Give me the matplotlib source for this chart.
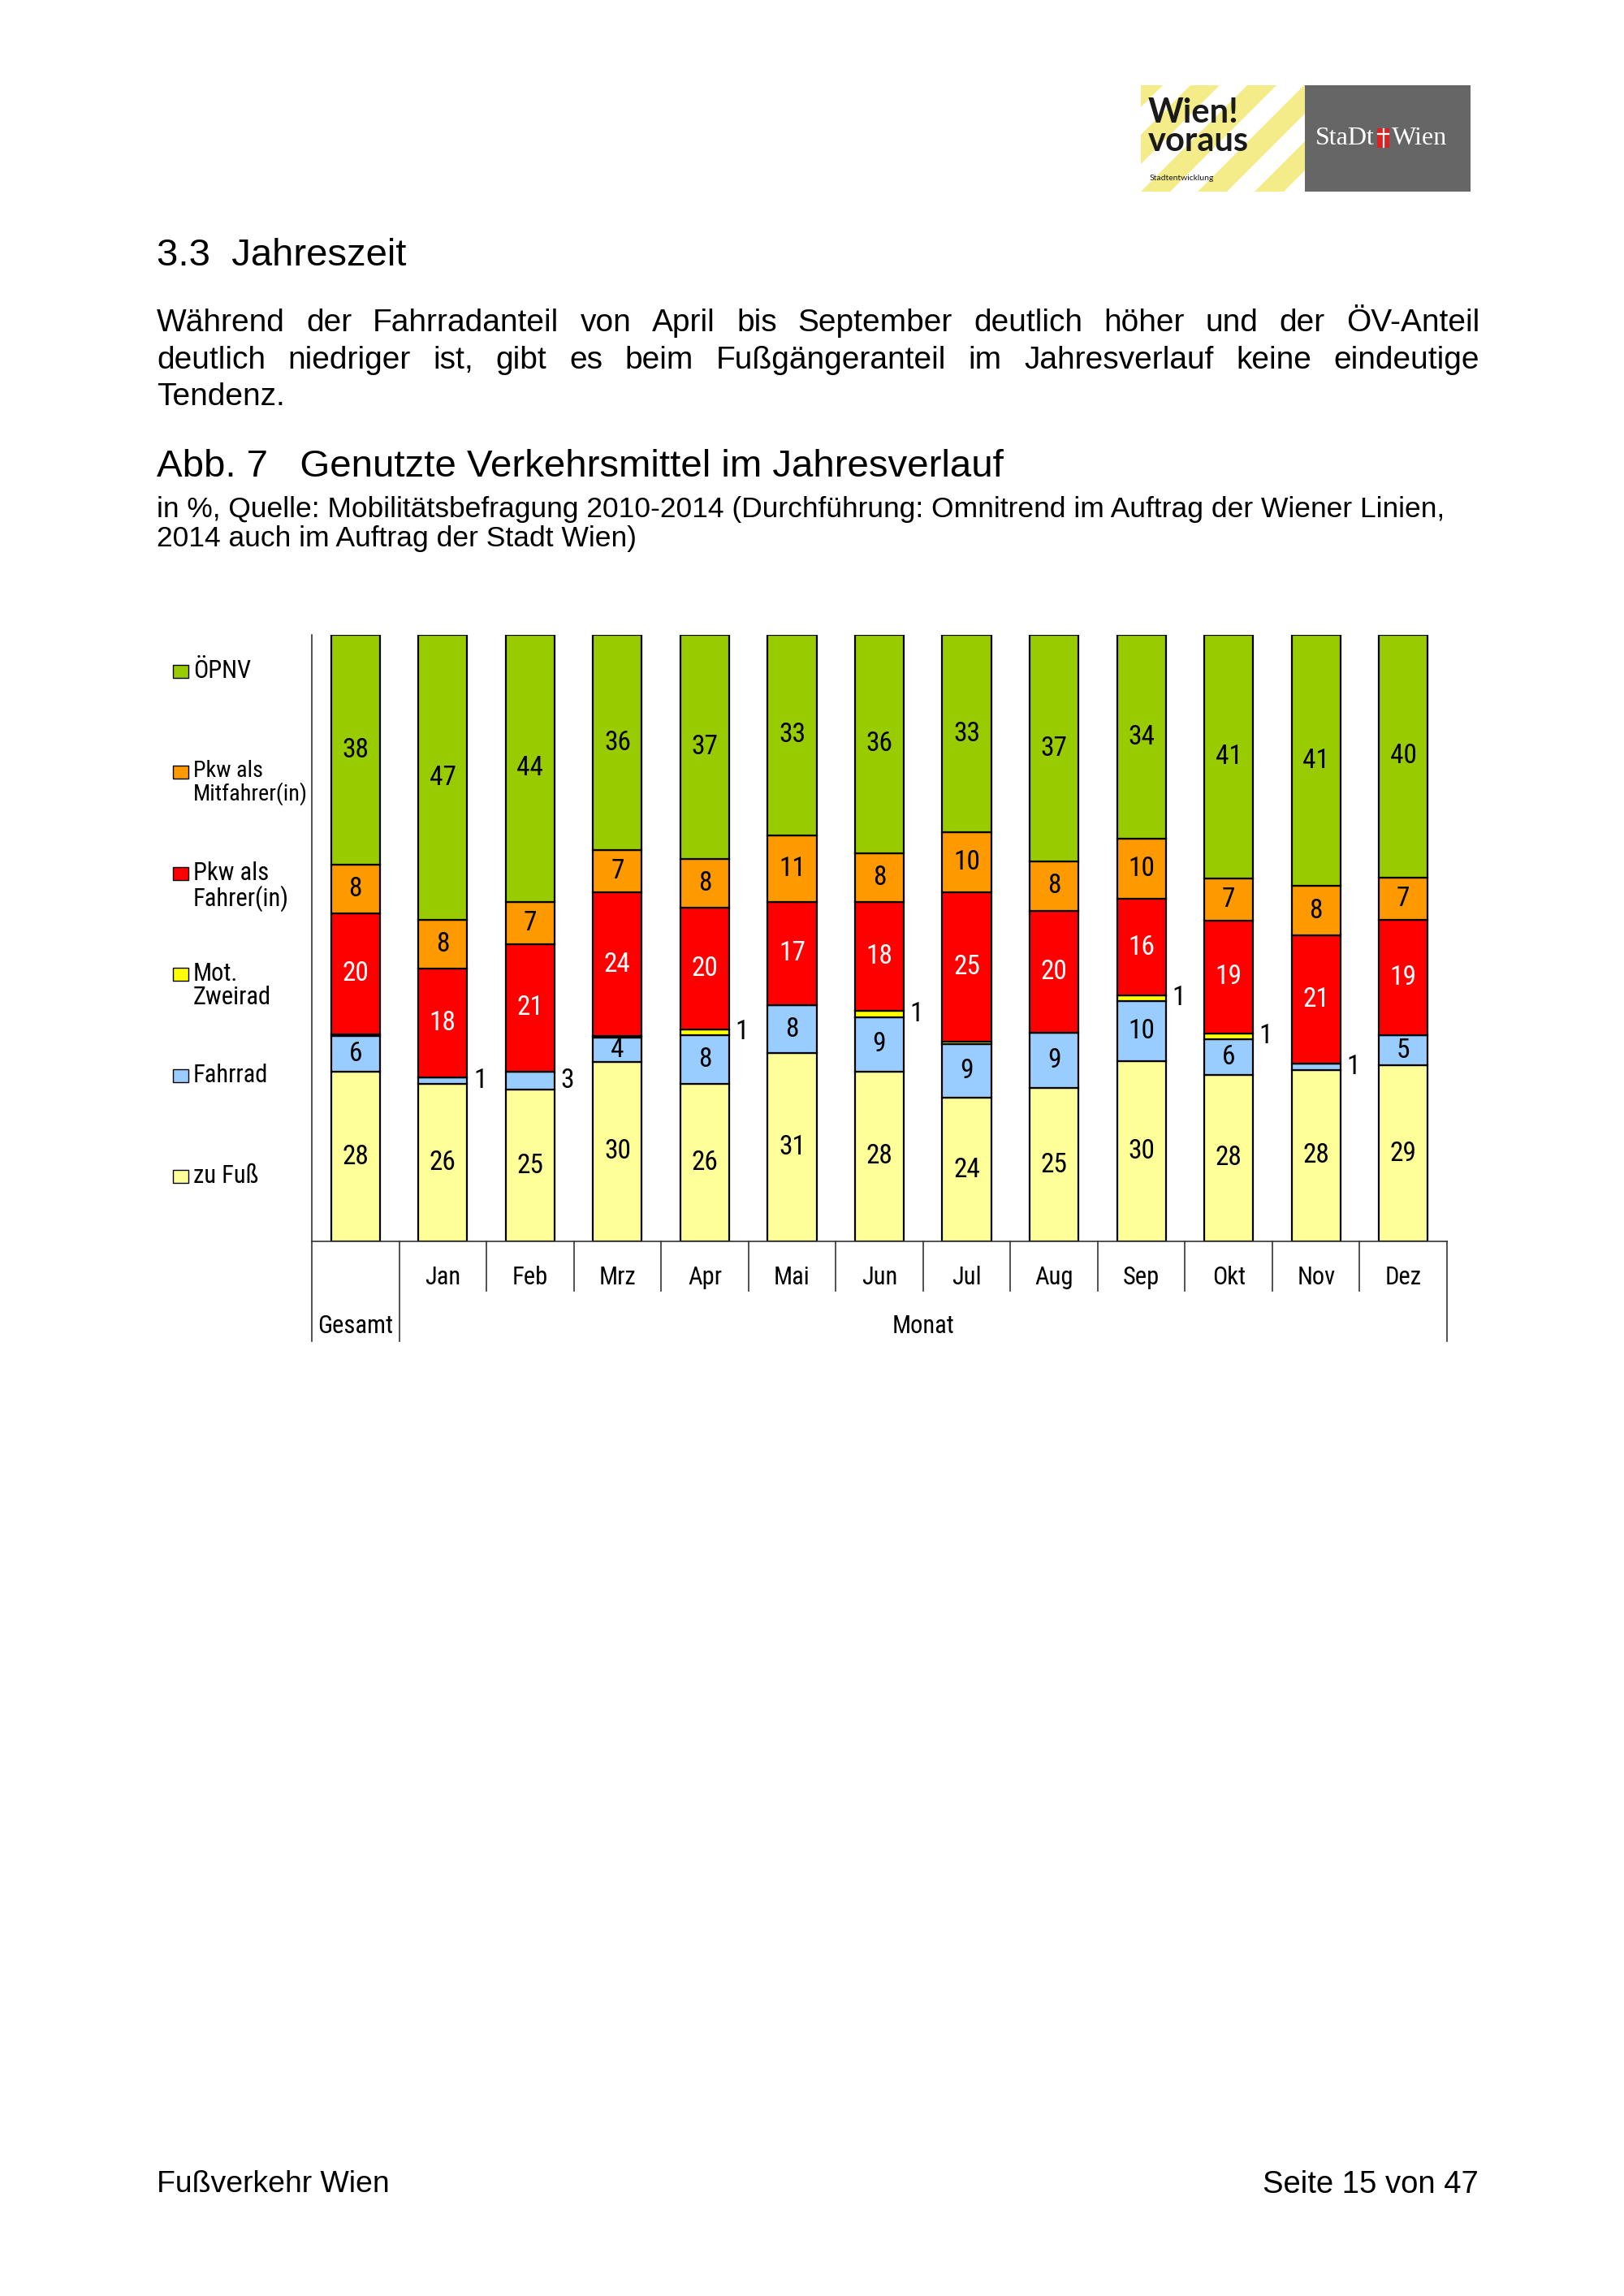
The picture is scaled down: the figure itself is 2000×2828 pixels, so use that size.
import os
import numpy as np
import matplotlib.pyplot as plt
from matplotlib import font_manager
from matplotlib.font_manager import FontProperties
from matplotlib.patches import Rectangle, Polygon

# Genutzte Verkehrsmittel im Jahresverlauf (in %)
categories = ['Gesamt', 'Jan', 'Feb', 'Mrz', 'Apr', 'Mai', 'Jun',
              'Jul', 'Aug', 'Sep', 'Okt', 'Nov', 'Dez']
modes = ['zu Fuß', 'Fahrrad', 'Mot.\nZweirad', 'Pkw als\nFahrer(in)',
         'Pkw als\nMitfahrer(in)', 'ÖPNV']
zu_fuss = [28, 26, 25, 30, 26, 31, 28, 24, 25, 30, 28, 28, 29]
fahrrad = [6, 1, 3, 4, 8, 8, 9, 9, 9, 10, 6, 1, 5]
mot_zweirad = [0.3, 0, 0, 0.3, 1, 0, 1, 0.3, 0, 1, 1, 0, 0]
pkw_fahrer = [20, 18, 21, 24, 20, 17, 18, 25, 20, 16, 19, 21, 19]
pkw_mitfahrer = [8, 8, 7, 7, 8, 11, 8, 10, 8, 10, 7, 8, 7]
oepnv = [38, 47, 44, 36, 37, 33, 36, 33, 37, 34, 41, 41, 40]

colors = ['#FFFF99', '#99CCFF', '#FFFF00', '#FF0000', '#FF9900', '#99CC00']
label_colors = ['black', 'black', 'black', 'white', 'black', 'black']

PAGE = ['Liberation Sans', 'DejaVu Sans']


def find_narrow():
    # the chart was set in a narrow sans; take the narrowest one installed
    keys = ['liberationsansnarrow-regular', 'arialnarrow', 'robotocondensed-regular',
            'opensans_condensed-regular', 'opensanscondensed-regular',
            'notosans-condensed.', 'dejavusanscondensed.ttf']
    files = [f.fname for f in font_manager.fontManager.ttflist]
    for key in keys:
        for fn in files:
            if key in os.path.basename(fn).lower():
                return fn
    return None


narrow_file = find_narrow()


def narrow(size):
    if narrow_file:
        return FontProperties(fname=narrow_file, size=size)
    return FontProperties(family='DejaVu Sans', stretch='condensed', size=size)


fig = plt.figure(figsize=(20, 28.28), dpi=100)
page = fig.add_axes([0, 0, 1, 1])
page.set_xlim(0, 2000)
page.set_ylim(2828, 0)
page.axis('off')
renderer = fig.canvas.get_renderer()


def text_width(t):
    return t.get_window_extent(renderer).width


def fit_text(x0, x1, y, s, size, **kw):
    # scale font so the line spans x0..x1 like in the scan
    t = page.text(x0, y, s, fontsize=size, va='center', family=PAGE, **kw)
    t.set_fontsize(size * (x1 - x0) / text_width(t))
    return t


def justify(x0, x1, y, s, size):
    words = s.split()
    ts = [page.text(0, y, w, fontsize=size, va='center', family=PAGE) for w in words]
    ws = [text_width(t) for t in ts]
    gap = (x1 - x0 - sum(ws)) / (len(ws) - 1)
    x = x0
    for t, w in zip(ts, ws):
        t.set_x(x)
        x += w + gap


# page text
fit_text(193, 500, 315, '3.3  Jahreszeit', 27)
justify(193, 1822, 398, 'Während der Fahrradanteil von April bis September deutlich '
        'höher und der ÖV-Anteil', 28)
justify(193, 1822, 444, 'deutlich niedriger ist, gibt es beim Fußgängeranteil im '
        'Jahresverlauf keine eindeutige', 28)
page.text(193, 489, 'Tendenz.', fontsize=28, va='center', family=PAGE)
fit_text(193, 1236, 575, 'Abb. 7   Genutzte Verkehrsmittel im Jahresverlauf', 28)
sub = fit_text(193, 1773, 627, 'in %, Quelle: Mobilitätsbefragung 2010-2014 (Durchführung: '
               'Omnitrend im Auftrag der Wiener Linien,', 22)
page.text(193, 664, '2014 auch im Auftrag der Stadt Wien)', fontsize=sub.get_fontsize(),
          va='center', family=PAGE)
fit_text(193, 479, 2691, 'Fußverkehr Wien', 22)
fit_text(1555, 1820, 2691, 'Seite 15 von 47', 22)

# logo
box = Rectangle((1405, 105), 202, 131, facecolor='white', edgecolor='none')
page.add_patch(box)
for k in range(-3, 6):
    x0 = 1405 + k * 70
    stripe = Polygon([(x0, 236), (x0 + 36, 236), (x0 + 36 + 131, 105), (x0 + 131, 105)],
                     facecolor='#F4EC88', edgecolor='none')
    page.add_patch(stripe)
    stripe.set_clip_path(box)
page.text(1414, 139, 'Wien!', fontsize=30, fontweight='bold', family=['Lato', 'DejaVu Sans'],
          va='center', color='#1a1a1a')
page.text(1414, 174, 'voraus', fontsize=30, fontweight='bold', family=['Lato', 'DejaVu Sans'],
          va='center', color='#1a1a1a')
page.text(1416, 219, 'Stadtentwicklung', fontsize=7.5, family=['Lato', 'DejaVu Sans'],
          va='center', color='#1a1a1a')
page.add_patch(Rectangle((1607, 105), 204, 131, facecolor='#666666', edgecolor='none'))
page.text(1693, 171, 'StaDt', fontsize=23, family=['Liberation Serif', 'DejaVu Serif'],
          color='white', ha='right', va='center')
page.add_patch(Rectangle((1696, 158), 15, 24, facecolor='#E02020', edgecolor='none'))
page.plot([1703.5, 1703.5], [159, 181], color='white', lw=1.6)
page.plot([1697, 1710], [165, 165], color='white', lw=1.6)
page.text(1714, 171, 'Wien', fontsize=23, family=['Liberation Serif', 'DejaVu Serif'],
          color='white', ha='left', va='center')

# legend, ÖPNV on top
legend_y = [1449, 1325, 1200, 1076, 951, 827]
for name, col, ly in zip(modes, colors, legend_y):
    page.add_patch(Rectangle((213, ly - 8), 19, 16, facecolor=col, edgecolor='black', lw=1))
    t = page.text(238, ly - 15, name, fontproperties=narrow(22), va='top', ha='left',
                  linespacing=1.0)
    w = text_width(t)
    if w > 140:
        t.set_fontsize(22 * 140 / w)

# chart
ax = fig.add_axes([0.192, 1 - 1529 / 2828, 0.699, 747 / 2828])
ax.patch.set_visible(False)
x = np.arange(len(categories))
data = np.array([zu_fuss, fahrrad, mot_zweirad, pkw_fahrer, pkw_mitfahrer, oepnv], float)
shares = data / data.sum(axis=0) * 100
bottom = np.zeros(len(categories))
for i in range(len(modes)):
    ax.bar(x, shares[i], bottom=bottom, width=0.56, color=colors[i],
           edgecolor='black', linewidth=1.6, zorder=2)
    for j in range(len(x)):
        v = data[i, j]
        if round(v) < 1:
            continue
        yc = bottom[j] + shares[i, j] / 2
        if v <= 3:
            ax.text(x[j] + 0.35, yc, f'{v:.0f}', ha='left', va='center',
                    fontproperties=narrow(24), color='black')
        else:
            ax.text(x[j], yc, f'{v:.0f}', ha='center', va='center',
                    fontproperties=narrow(24), color=label_colors[i], zorder=3)
    bottom += shares[i]

ax.set_xlim(-0.5, 12.5)
ax.set_ylim(0, 100)
for s in ['top', 'right', 'left']:
    ax.spines[s].set_visible(False)
ax.spines['bottom'].set_color('#333333')
ax.spines['bottom'].set_linewidth(1.2)
ax.set_xticks([])
ax.set_yticks([])

tr = ax.get_xaxis_transform()
y_sep = -(1590 - 1529) / 747
y_bot = -(1652 - 1529) / 747
line_kw = dict(color='#333333', lw=1.2, transform=tr, clip_on=False)
ax.plot([-0.5, -0.5], [y_bot, 1], **line_kw)
ax.plot([12.5, 12.5], [y_bot, 0], **line_kw)
ax.plot([0.5, 0.5], [y_bot, 0], **line_kw)
for b in np.arange(1.5, 12, 1):
    ax.plot([b, b], [y_sep, 0], **line_kw)

for xi, name in zip(x[1:], categories[1:]):
    ax.text(xi, -(1573 - 1529) / 747, name, transform=tr, ha='center', va='center',
            fontproperties=narrow(22))
ax.text(0, -(1634 - 1529) / 747, categories[0], transform=tr, ha='center', va='center',
        fontproperties=narrow(22))
ax.text(6.5, -(1634 - 1529) / 747, 'Monat', transform=tr, ha='center', va='center',
        fontproperties=narrow(22))

fig.savefig('out.png', dpi=100)
